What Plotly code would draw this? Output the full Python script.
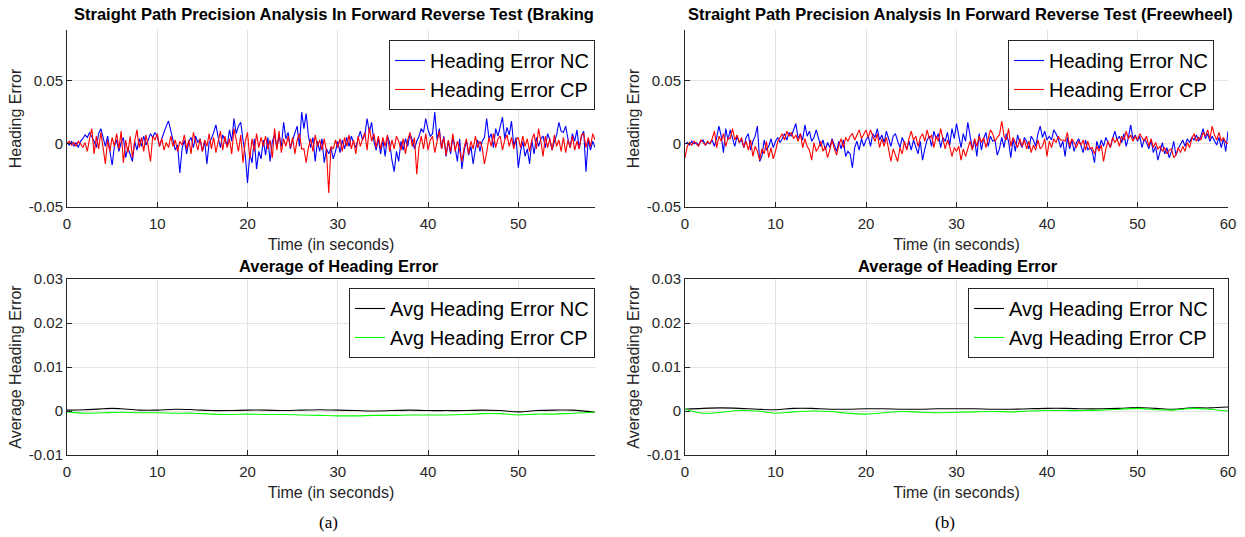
import plotly.graph_objects as go

# ---------------- data (heading error in units of 1e-3 rad) ----------------
dt_err = 0.25
# (a) Braking, t = 0 .. 58.5 s
braking_nc_milli = [
    1, -1, 2, -2, 1, -3, 2, 4, 7, 5, 9, 6, 2, -3, 8, 12, 4, -2, 6, -4,
    -17, -2, 3, -6, 1, 5, -11, -3, -8, -14, 2, -5, 4, -2, 6, -1, 3, 8, 5, 9,
    6, -2, 4, 10, 14, 18, 11, 2, -5, -1, -23, -4, 3, -8, 2, 5, -3, 6, 1, 4,
    -6, 2, -16, 1, 4, 9, 15, 5, -3, 7, 3, -2, 11, 2, 20, 8, 14, 17, 3, -9,
    -31, -8, -15, 4, -20, -6, -12, 3, -9, 5, -14, 2, 7, -3, 6, -2, 17, 4, 9, -4,
    3, 8, 14, -2, 25, 12, 24, 6, -3, 5, -14, 2, -6, 4, -15, -4, -8, -3, -12, -6,
    2, -7, 3, -4, 5, -2, 6, 1, -3, 4, 10, 3, 7, 20, 9, 17, 2, -5, 4, -8,
    3, -10, 6, 1, -13, -22, -6, -14, 2, -5, 4, -2, 8, 3, -4, 2, 6, 12, 9, 20,
    11, 6, 8, 25, 3, 12, -4, 6, -10, 2, -8, 5, -3, -14, 4, -20, -6, 3, -9, -2,
    -16, -4, 3, -6, 2, 5, 20, 4, 8, -3, 12, 6, 14, 21, 4, 13, 7, 18, -2, 5,
    -19, -6, 2, -10, -4, -16, 3, -8, 5, -2, 4, 6, -3, 8, 3, -5, 2, 7, 17, 10,
    9, 14, 4, -3, 8, 2, 11, -4, 6, 10, -22, 3, -5, 2, -3,
]
braking_cp_milli = [
    0, 2, -1, 1, -2, 2, 0, -3, 1, -6, 4, 12, -8, 6, -4, 9, -3, -16, 3, -6,
    5, -2, 8, -4, 10, -15, 3, -7, 6, -11, 2, 11, -3, 5, -6, 7, -2, -14, 6, 3,
    8, -2, 4, -5, 1, -3, 6, -2, 3, -6, 2, -1, 7, -4, 3, -8, 9, 2, -5, 4,
    -6, 3, -2, 8, -4, 5, -7, 2, 10, -5, 6, -3, 4, -8, 12, 3, -6, 7, -15, 2,
    9, -12, 4, -6, 8, -3, 5, -2, 6, -4, 3, -11, 12, -5, 10, -7, 4, -2, 6, -3,
    5, -8, 3, 8, -4, -4, -15, -3, 4, -6, 7, -2, 3, -5, 4, -6, -39, -2, -4, 3,
    -3, 4, -6, 5, -2, 7, -4, 3, -8, 6, -2, 4, 9, -5, 13, 2, 8, -3, 6, -4,
    5, -2, 7, -6, 3, -4, 6, 2, -5, 4, -8, 3, 9, -2, 5, -24, -3, 6, -4, 8,
    -5, 3, 6, -7, 2, 10, -4, 5, -9, 3, -6, 8, -6, 2, -5, -14, -3, 4, -8, 2,
    -4, 6, -3, 2, -3, -16, -7, 5, -2, 8, -3, 4, 6, -5, 3, 7, -2, 5, -4, 3,
    5, -3, 6, -2, 4, -6, 3, 8, -4, 12, 2, -10, 6, -3, 4, -5, 7, -2, 3, -6,
    5, -7, 3, -3, 6, -5, 2, -4, 7, 8, -3, 5, -2, 8, 3,
]
# (b) Freewheel, t = 0 .. 60 s
freewheel_nc_milli = [
    0, 1, -1, 2, 0, 1, -1, 2, 3, -1, 1, 0, 3, -2, 5, 14, 6, -7, 12, 3,
    11, 4, -2, 6, 1, 3, -3, 5, 8, -5, 2, 6, 14, -14, -10, 3, -5, -2, 4, -3,
    2, 5, 1, 4, 8, 3, 9, 6, 12, 16, 4, 8, 3, 15, 6, 10, 2, 5, 11, 4,
    -2, 3, -5, 1, -3, 4, -1, -6, 2, -4, 3, -10, -6, -8, -19, -3, 2, -5, 4, -2,
    3, 6, -2, 8, 5, 12, 3, 7, 1, 10, 4, -2, 6, 8, 2, -3, 5, 1, -4, 2,
    -5, 3, -2, -8, 2, -13, -4, 3, 6, -2, 10, 4, 8, -3, 5, 2, 9, -1, 12, 4,
    16, 5, -3, 8, 2, 17, 6, -4, 3, -10, 8, -5, 4, 9, -2, 6, 2, 3, -9, -4,
    5, -3, 8, 2, -11, 4, -6, 7, 1, -3, 5, 2, -4, 6, 3, -2, 8, 14, 5, 10,
    3, 6, 3, 11, 8, 4, -3, 2, -10, 5, -4, 3, -6, 1, 4, -2, -7, 3, -5, -3,
    -6, -15, 2, -4, 3, -2, 5, 1, -3, 4, 10, 3, 6, 1, 8, -2, 5, 15, 4, 7,
    2, 6, -3, 4, 1, -4, 3, -7, -2, -13, -5, 1, -8, -3, -11, -6, 2, -9, -4, -1,
    3, -2, 4, 1, 5, 3, 7, 2, 6, 12, 4, 8, 2, 6, 3, -1, 5, -3, 4, -6,
    10,
]
freewheel_cp_milli = [
    -11, -2, 1, -1, 2, 0, -2, 3, 1, -1, 2, 0, 4, 10, -3, 6, 2, 8, -2, 5,
    4, 12, 3, 7, 1, 5, -3, 2, -5, 3, -10, -2, -6, -13, -4, -8, 2, -11, -3, -12,
    -6, 2, 5, 8, 3, 10, 6, 9, 4, 7, 2, 8, -3, 4, -2, -5, -13, 1, -6, -3,
    2, -6, -2, -11, -5, 3, -4, -9, -1, 4, -3, 5, 2, 6, 8, 3, 7, 11, 4, 8,
    11, 5, 11, 6, 2, 8, -3, 4, -2, 5, -6, -14, -4, -9, -14, -3, -8, 2, -5, 4,
    10, 3, 6, -2, 5, 8, 2, 11, 4, 7, -3, 6, 2, 12, 5, -4, 3, -2, -10, -3,
    -6, -2, -13, -4, -10, -3, 2, -5, 4, -2, 6, 1, 5, -3, 3, 11, 8, 2, 5, 7,
    18, 6, 3, 12, -2, 5, 1, -3, 4, -2, 3, -4, 2, -7, -1, -5, 3, -4, -2, 4,
    -10, 2, -3, 4, 1, 6, 3, 3, 2, 9, -2, 4, 1, -3, 2, -1, 3, -5, 2, -4,
    -3, -8, -2, -6, -1, -14, -4, 2, -3, 5, 1, 4, -2, 6, 3, 10, 4, 7, 2, 6,
    3, 8, 5, 2, 6, -2, 4, -3, 1, -4, -2, -6, -3, -8, -5, -4, -11, -9, -3, -7,
    -2, -6, 1, -3, 4, 8, 2, 5, 3, 9, 6, 11, 4, 14, 7, 3, 9, 2, 5, 1,
    0,
]

# Average heading error (units of 1e-3), sampled every 2 s
avg_t_a = [0, 2, 4, 5, 6, 8, 10, 12, 14, 16, 18, 20, 22, 24, 26, 28, 30, 32, 34, 36,
           38, 40, 42, 44, 46, 48, 50, 52, 54, 56, 58.5]
avg_nc_a_milli = [0.2, 0.3, 0.5, 0.6, 0.5, 0.2, 0.2, 0.4, 0.3, 0.1, 0.1, 0.2, 0.2, 0.1, 0.2, 0.3,
                  0.2, 0.1, 0.0, 0.1, 0.2, 0.1, 0.1, 0.1, 0.2, 0.1, -0.2, 0.1, 0.2, 0.2, -0.3]
avg_cp_a_milli = [-0.2, -0.5, -0.4, -0.35, -0.3, -0.4, -0.4, -0.5, -0.5, -0.7, -0.8, -0.7, -0.8, -0.8,
                  -0.9, -1.0, -1.1, -1.1, -1.0, -1.0, -0.9, -0.9, -0.9, -0.8, -0.6, -0.6, -0.9, -0.7,
                  -0.7, -0.5, -0.3]
avg_t_b = [0, 2, 4, 6, 8, 10, 12, 14, 16, 18, 20, 22, 24, 26, 28, 30, 32, 34, 36, 38,
           40, 42, 44, 46, 48, 50, 52, 54, 56, 58, 60]
avg_nc_b_milli = [0.4, 0.6, 0.7, 0.6, 0.4, 0.3, 0.6, 0.6, 0.4, 0.4, 0.5, 0.5, 0.4, 0.4, 0.5, 0.5,
                  0.5, 0.4, 0.4, 0.5, 0.6, 0.6, 0.5, 0.5, 0.6, 0.8, 0.6, 0.4, 0.7, 0.7, 0.9]
avg_cp_b_milli = [0.4, -0.5, -0.3, 0.1, 0.0, -0.5, -0.2, 0.0, -0.1, -0.5, -0.7, -0.4, -0.1, -0.3,
                  -0.4, -0.3, -0.2, -0.1, -0.2, 0.0, 0.1, 0.1, 0.1, 0.2, 0.4, 0.6, 0.3, 0.2, 0.6,
                  0.4, 0.0]

top_titles = ["Straight Path Precision Analysis In Forward Reverse Test (Braking",
              "Straight Path Precision Analysis In Forward Reverse Test (Freewheel)"]
bottom_title = "Average of Heading Error"
panel_labels = ["(a)", "(b)"]

# ---------------- figure ----------------
W, H = 1245, 537
FONT = "Liberation Sans, Arial, Helvetica, sans-serif"
TXT = "#262626"


def px(x):
    return x / W


def py(y):
    return 1 - y / H


def times(n, step):
    return [round(i * step, 4) for i in range(n)]


def scale(v):
    return [a * 1e-3 for a in v]


fig = go.Figure()

series = [
    ("x", "y", times(len(braking_nc_milli), dt_err), scale(braking_nc_milli), "#0000ff", "Heading Error NC", "legend"),
    ("x", "y", times(len(braking_cp_milli), dt_err), scale(braking_cp_milli), "#ff0000", "Heading Error CP", "legend"),
    ("x2", "y2", times(len(freewheel_nc_milli), dt_err), scale(freewheel_nc_milli), "#0000ff", "Heading Error NC", "legend2"),
    ("x2", "y2", times(len(freewheel_cp_milli), dt_err), scale(freewheel_cp_milli), "#ff0000", "Heading Error CP", "legend2"),
    ("x3", "y3", avg_t_a, scale(avg_nc_a_milli), "#000000", "Avg Heading Error NC", "legend3"),
    ("x3", "y3", avg_t_a, scale(avg_cp_a_milli), "#00ff00", "Avg Heading Error CP", "legend3"),
    ("x4", "y4", avg_t_b, scale(avg_nc_b_milli), "#000000", "Avg Heading Error NC", "legend4"),
    ("x4", "y4", avg_t_b, scale(avg_cp_b_milli), "#00ff00", "Avg Heading Error CP", "legend4"),
]
for xa, ya, xs, ys, col, name, leg in series:
    spline = xa in ("x3", "x4")
    fig.add_trace(go.Scatter(x=xs, y=ys, mode="lines", name=name, xaxis=xa, yaxis=ya,
                             legend=leg,
                             line=dict(color=col, width=1.1,
                                       shape="spline" if spline else "linear")))

left_dom = [px(67), px(595)]
right_dom = [px(685), px(1228)]
top_dom = [py(207), py(30)]
bot_dom = [py(455), py(279)]

axis_common = dict(showgrid=True, gridcolor="#e3e3e3", gridwidth=1, zeroline=False,
                   showline=True, linecolor="#262626", linewidth=1, automargin=False,
                   ticks="inside", ticklen=5, tickcolor="#262626",
                   tickfont=dict(family=FONT, size=15, color=TXT))
xtitle = dict(text="Time (in seconds)", font=dict(family=FONT, size=16, color=TXT), standoff=7)
ytitle_font = dict(family=FONT, size=16, color=TXT)
xextra = dict(ticklabelstandoff=3)

fig.update_layout(
    width=W, height=H, margin=dict(l=0, r=0, t=0, b=0, autoexpand=False),
    paper_bgcolor="white", plot_bgcolor="white",
    font=dict(family=FONT, color=TXT),
    xaxis=dict(domain=left_dom, anchor="y", range=[0, 58.5], tickvals=[0, 10, 20, 30, 40, 50],
               title=xtitle, **xextra, **axis_common),
    yaxis=dict(domain=top_dom, anchor="x", range=[-0.05, 0.09], tickvals=[-0.05, 0, 0.05],
               ticktext=["-0.05", "0", "0.05"],
               title=dict(text="Heading Error", font=ytitle_font, standoff=3),
               **axis_common),
    xaxis2=dict(domain=right_dom, anchor="y2", range=[0, 60], tickvals=[0, 10, 20, 30, 40, 50, 60],
                title=xtitle, **xextra, **axis_common),
    yaxis2=dict(domain=top_dom, anchor="x2", range=[-0.05, 0.09], tickvals=[-0.05, 0, 0.05],
                ticktext=["-0.05", "0", "0.05"],
                title=dict(text="Heading Error", font=ytitle_font, standoff=3),
                **axis_common),
    xaxis3=dict(domain=left_dom, anchor="y3", range=[0, 58.5], tickvals=[0, 10, 20, 30, 40, 50],
                mirror=True, title=xtitle, **xextra, **axis_common),
    yaxis3=dict(domain=bot_dom, anchor="x3", range=[-0.01, 0.03],
                tickvals=[-0.01, 0, 0.01, 0.02, 0.03], ticktext=["-0.01", "0", "0.01", "0.02", "0.03"],
                title=dict(text="Average Heading Error", font=ytitle_font, standoff=3),
                **axis_common),
    xaxis4=dict(domain=right_dom, anchor="y4", range=[0, 60], tickvals=[0, 10, 20, 30, 40, 50, 60],
                mirror=True, title=xtitle, **xextra, **axis_common),
    yaxis4=dict(domain=bot_dom, anchor="x4", range=[-0.01, 0.03], mirror=True,
                tickvals=[-0.01, 0, 0.01, 0.02, 0.03], ticktext=["-0.01", "0", "0.01", "0.02", "0.03"],
                title=dict(text="Average Heading Error", font=ytitle_font, standoff=3),
                **axis_common),
)

leg_common = dict(bgcolor="white", bordercolor="#262626", borderwidth=1,
                  font=dict(family=FONT, size=20, color="#000000"),
                  xanchor="right", yanchor="top", tracegroupgap=0, itemwidth=30)
fig.update_layout(
    legend=dict(x=px(595), y=py(40), **leg_common),
    legend2=dict(x=px(1214), y=py(40), **leg_common),
    legend3=dict(x=px(595), y=py(288), **leg_common),
    legend4=dict(x=px(1214), y=py(288), **leg_common),
)

ann = []
ann.append(dict(text="<b>" + top_titles[0] + "</b>", x=px(334), y=py(14), xref="paper", yref="paper",
                showarrow=False, xanchor="center", yanchor="middle",
                font=dict(family=FONT, size=16.5, color="#000000")))
ann.append(dict(text="<b>" + top_titles[1] + "</b>", x=px(960), y=py(14), xref="paper", yref="paper",
                showarrow=False, xanchor="center", yanchor="middle",
                font=dict(family=FONT, size=16.5, color="#000000")))
for cx in (339, 958):
    ann.append(dict(text="<b>" + bottom_title + "</b>", x=px(cx), y=py(266), xref="paper", yref="paper",
                    showarrow=False, xanchor="center", yanchor="middle",
                    font=dict(family=FONT, size=16.5, color="#000000")))
for cx, lab in zip((328, 945), panel_labels):
    ann.append(dict(text=lab, x=px(cx), y=py(522), xref="paper", yref="paper",
                    showarrow=False, xanchor="center", yanchor="middle",
                    font=dict(family="Liberation Serif, Times New Roman, serif", size=17, color="#000000")))
fig.update_layout(annotations=ann)

fig.write_html("out.html", config={"displayModeBar": False},
               post_script="document.body.style.margin='0';document.body.style.overflow='hidden';")
